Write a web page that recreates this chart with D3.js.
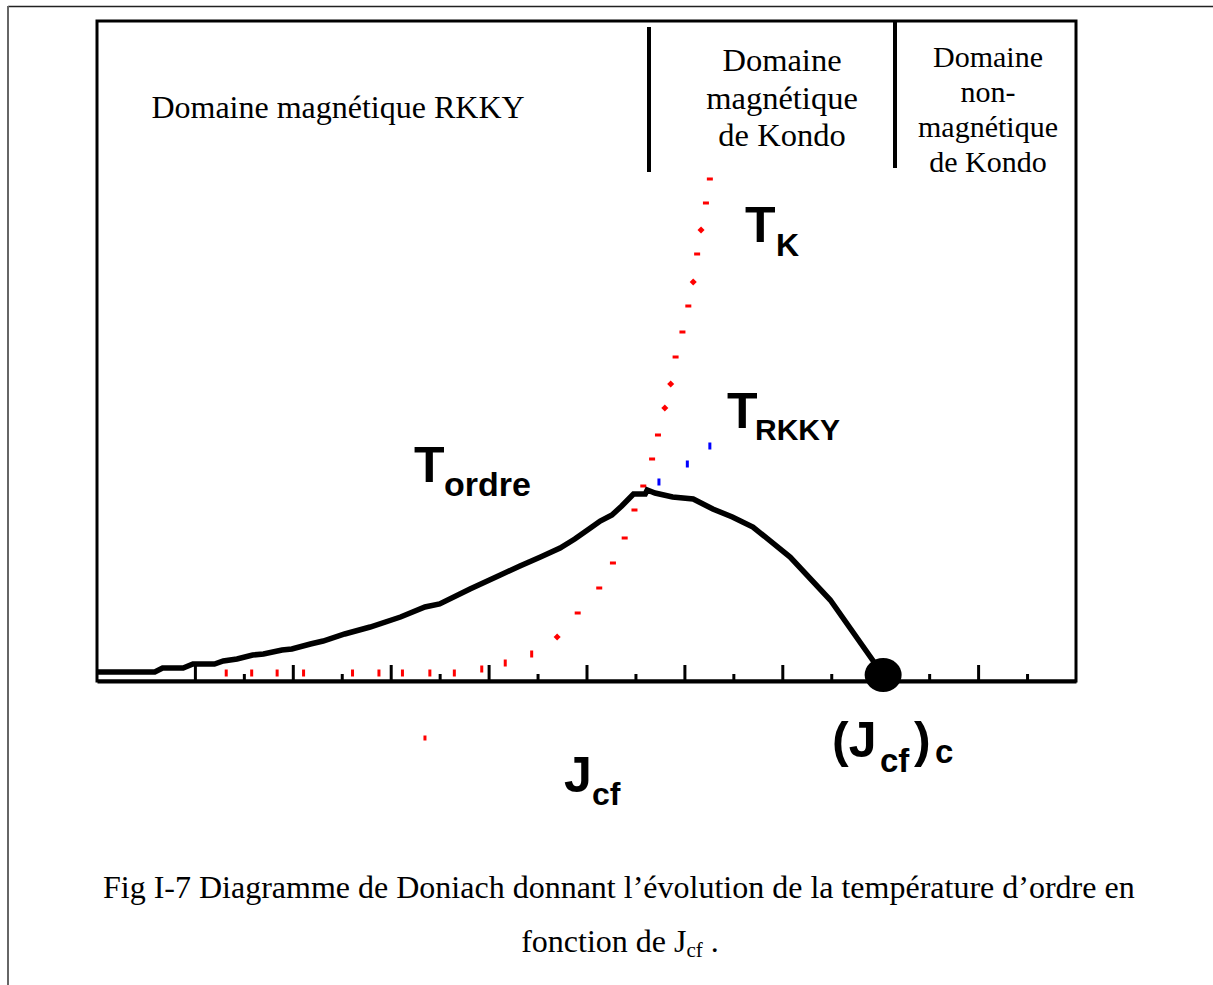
<!DOCTYPE html>
<html>
<head>
<meta charset="utf-8">
<script src="https://cdn.jsdelivr.net/npm/d3@7"></script>
<style>
  body { margin: 0; background: #fff; }
</style>
</head>
<body>
<script>
// T_ordre (black curve): Jcf vs temperature
let ordreJ = [0, 0.59, 0.67, 0.88, 0.98, 1.2, 1.29, 1.43, 1.59, 1.7, 1.89, 1.99, 2.18, 2.31, 2.53, 2.79, 3.1, 3.35, 3.5, 3.81, 4.12, 4.32, 4.53, 4.73, 4.88, 5.04, 5.14, 5.26, 5.36, 5.48, 5.6, 5.62, 5.7, 5.88, 6.09, 6.29, 6.49, 6.7, 7.08, 7.49, 8.03];
let ordreT = [0.9, 0.9, 1.3, 1.3, 1.7, 1.7, 2.0, 2.2, 2.6, 2.7, 3.1, 3.2, 3.7, 4.0, 4.7, 5.4, 6.4, 7.4, 7.7, 9.2, 10.6, 11.5, 12.4, 13.3, 14.2, 15.3, 16.0, 16.6, 17.5, 18.7, 18.7, 19.1, 18.8, 18.4, 18.2, 17.2, 16.4, 15.4, 12.4, 8.1, 0.6];

// T_K (red dotted)
let kondoJ = [1.32, 1.58, 1.84, 2.11, 2.61, 2.88, 3.12, 3.4, 3.65, 3.93, 4.17, 4.44, 4.7, 4.91, 5.13, 5.27, 5.39, 5.49, 5.58, 5.67, 5.73, 5.8, 5.86, 5.91, 5.98, 6.04, 6.09, 6.13, 6.17, 6.22, 6.26];
let kondoT = [0.8, 0.8, 0.8, 0.8, 0.8, 0.8, 0.8, 0.8, 0.8, 1.2, 1.8, 2.7, 4.4, 6.8, 9.3, 11.8, 14.3, 17.1, 19.5, 22.2, 24.6, 27.3, 29.7, 32.4, 34.9, 37.5, 39.9, 42.7, 45.1, 47.8, 50.2];
let strayJ = [3.35];
let strayT = [-5.7];

// T_RKKY (blue dotted)
let rkkyJ = [5.74, 6.03, 6.26];
let rkkyT = [19.9, 21.7, 23.5];

let criticalJ = 8.03;

let majorTicks = [1, 2, 3, 4, 5, 6, 7, 8, 9];
let minorTicks = [2.5, 3.5, 4.5, 5.5, 6.5, 7.5, 8.5, 9.5, 1.5];

let svg = d3.select('body')
      .append('svg')
      .attr('width', 1213)
      .attr('height', 985);

let x = d3.scaleLinear().domain([0, 10]).range([97, 1076]);
let y = d3.scaleLinear().domain([0, 66]).range([681, 21]);

// page frame
svg.append('line').attr('x1', 8).attr('x2', 1213).attr('y1', 6.5).attr('y2', 6.5)
  .style('stroke', '#222').style('stroke-width', 1.5);
svg.append('line').attr('x1', 8).attr('x2', 8).attr('y1', 6).attr('y2', 985)
  .style('stroke', '#666').style('stroke-width', 2);

// plot box
svg.append('rect')
  .attr('x', x(0)).attr('y', y(66))
  .attr('width', x(10) - x(0)).attr('height', y(0) - y(66))
  .style('fill', 'none').style('stroke', 'black').style('stroke-width', 3);

// domain dividers
svg.append('line').attr('x1', 649).attr('x2', 649).attr('y1', 27).attr('y2', 172)
  .style('stroke', 'black').style('stroke-width', 4);
svg.append('line').attr('x1', 895).attr('x2', 895).attr('y1', 22).attr('y2', 168)
  .style('stroke', 'black').style('stroke-width', 4);

// axis with inward ticks
let axisG = svg.append('g').attr('transform', `translate(0,${y(0)})`)
  .call(d3.axisTop(x).tickValues(majorTicks).tickSizeInner(16).tickSizeOuter(0).tickFormat(''));
let minorG = svg.append('g').attr('transform', `translate(0,${y(0)})`)
  .call(d3.axisTop(x).tickValues(minorTicks).tickSizeInner(7).tickSizeOuter(0).tickFormat(''));
minorG.select('.domain').remove();
svg.selectAll('.tick line').style('stroke', 'black').style('stroke-width', 3);
axisG.select('.domain').style('stroke', 'black').style('stroke-width', 4);

// T_K points
let diamonds = [12, 21, 22, 26, 28];
let kondo = kondoJ.map((j, i) => ({j: j, t: kondoT[i], i: i}));
kondo.forEach(d => {
  let cx = x(d.j), cy = y(d.t);
  if (diamonds.includes(d.i)) {
    svg.append('rect').attr('x', cx - 2.5).attr('y', cy - 2.5).attr('width', 5).attr('height', 5)
      .attr('transform', `rotate(45,${cx},${cy})`).style('fill', 'red');
  } else if (d.t < 3) {
    svg.append('rect').attr('x', cx - 1.5).attr('y', cy - 3.5).attr('width', 3).attr('height', 7).style('fill', 'red');
  } else {
    svg.append('rect').attr('x', cx - 3).attr('y', cy - 1.5).attr('width', 6).attr('height', 3).style('fill', 'red');
  }
});
strayJ.forEach((j, i) => {
  svg.append('rect').attr('x', x(j) - 1.5).attr('y', y(strayT[i]) - 2.5).attr('width', 3).attr('height', 5).style('fill', 'red');
});

// T_RKKY points
svg.selectAll('.rkky').data(rkkyJ).enter().append('rect')
  .attr('x', d => x(d) - 1.5)
  .attr('y', (d, i) => y(rkkyT[i]) - 3.5)
  .attr('width', 3).attr('height', 7)
  .style('fill', 'blue');

// T_ordre curve
let lineDrawer = d3.line()
  .x(d => x(d[0]))
  .y(d => y(d[1]));
svg.append('path')
  .style('fill', 'none')
  .style('stroke', 'black')
  .style('stroke-width', 5.5)
  .attr('d', lineDrawer(ordreJ.map((j, i) => [j, ordreT[i]])));

svg.append('ellipse')
  .attr('cx', x(criticalJ)).attr('cy', y(0.6))
  .attr('rx', 18.5).attr('ry', 17)
  .style('fill', 'black');

// domain labels
let serif = 'Liberation Serif, Times New Roman, serif';
let sans = 'Liberation Sans, Arial, sans-serif';
function label(txt, cx, by, size, font, weight, anchor) {
  return svg.append('text').attr('x', cx).attr('y', by)
    .attr('text-anchor', anchor || 'middle')
    .style('font-family', font).style('font-size', size + 'px')
    .style('font-weight', weight || 'normal')
    .text(txt);
}
label('Domaine magnétique RKKY', 338, 118, 32, serif);
['Domaine', 'magnétique', 'de Kondo'].forEach((t, i) => label(t, 782, 71 + i * 37.5, 32.5, serif));
['Domaine', 'non-', 'magnétique', 'de Kondo'].forEach((t, i) => label(t, 988, 67 + i * 35, 30, serif));

// curve labels
label('T', 745, 242, 50, sans, 'bold', 'start');
label('K', 776, 256, 32, sans, 'bold', 'start');
label('T', 727, 428, 50, sans, 'bold', 'start');
label('RKKY', 755, 440, 30, sans, 'bold', 'start');
label('T', 414, 482, 50, sans, 'bold', 'start');
label('ordre', 444, 496, 34, sans, 'bold', 'start');
label('J', 564, 792, 50, sans, 'bold', 'start');
label('cf', 592, 805, 32, sans, 'bold', 'start');
label('(J', 832, 757, 50, sans, 'bold', 'start');
label('cf', 880, 772, 33, sans, 'bold', 'start');
label(')', 914, 757, 50, sans, 'bold', 'start');
label('c', 935, 763, 33, sans, 'bold', 'start');

// caption
label('Fig I-7 Diagramme de Doniach donnant l’évolution de la température d’ordre en', 103, 898, 32, serif, 'normal', 'start');
let cap2 = svg.append('text').attr('x', 620).attr('y', 952).attr('text-anchor', 'middle')
  .style('font-family', serif).style('font-size', '32px');
cap2.append('tspan').text('fonction de J');
cap2.append('tspan').attr('dy', 5).style('font-size', '21px').text('cf');
cap2.append('tspan').attr('dy', -5).text(' .');
</script>
</body>
</html>
